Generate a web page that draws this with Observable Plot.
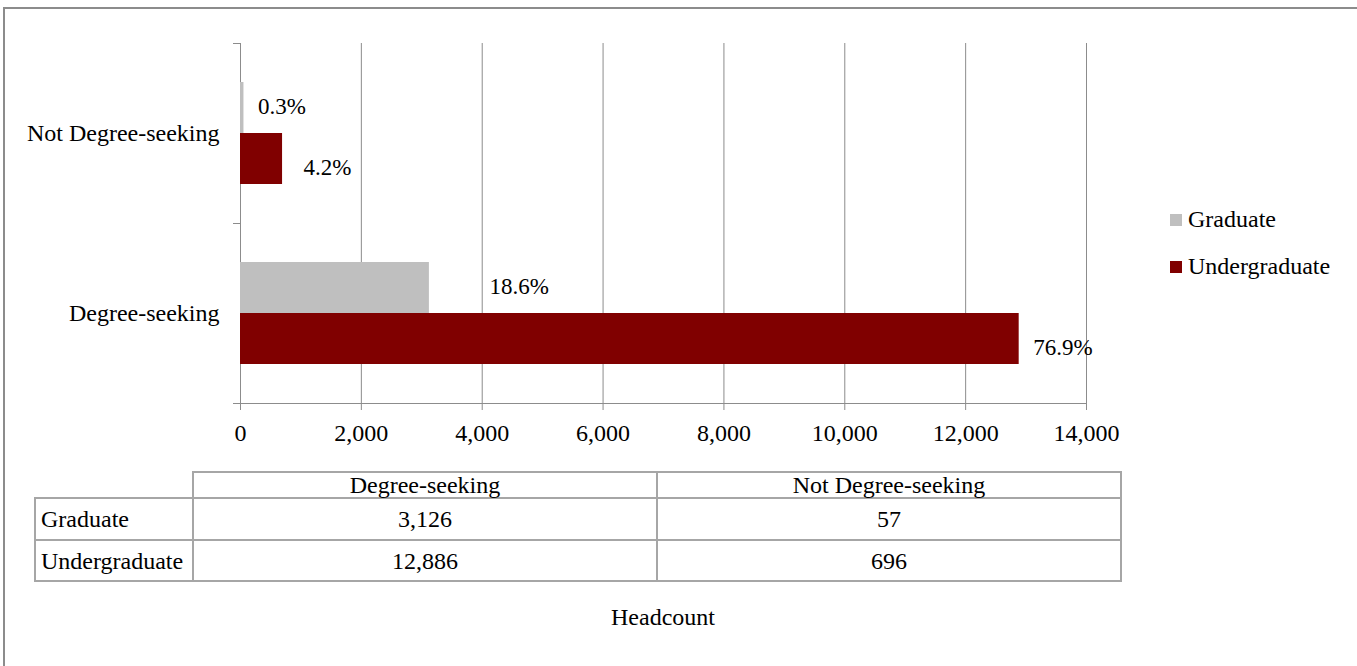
<!DOCTYPE html>
<html>
<head>
<meta charset="utf-8">
<script src="https://cdn.jsdelivr.net/npm/d3@7"></script>
<script src="https://cdn.jsdelivr.net/npm/@observablehq/plot@0.6"></script>
<style>
  html, body { margin: 0; padding: 0; background: #fff; }
  body { width: 1357px; height: 666px; overflow: hidden; position: relative; font-family: "Liberation Serif", "Times New Roman", serif; color: #000; }
  #frame { position: absolute; left: 3px; top: 7px; width: 1400px; height: 700px; border-top: 2px solid #8c8c8c; border-left: 2px solid #8c8c8c; }
  #chart { position: absolute; left: 0; top: 0; }
  #legend { position: absolute; left: 1170px; top: 196px; font-size: 24px; line-height: 47px; }
  #legend .item { display: flex; align-items: center; height: 47px; }
  #legend .sw { width: 12px; height: 12px; margin-right: 6px; }
  #table { position: absolute; left: 34px; top: 471px; border-collapse: collapse; font-size: 24px; table-layout: fixed; width: 1088px; }
  #table td { border: 2px solid #a6a6a6; padding: 0; text-align: center; line-height: 24px; }
  #table td.rowhead { text-align: left; padding-left: 5px; }
  #table td.blank { border: none; border-bottom: 2px solid #a6a6a6; border-right: 2px solid #a6a6a6; }
  #caption { position: absolute; left: 240px; width: 846px; top: 604px; text-align: center; font-size: 24px; }
</style>
</head>
<body>
<div id="frame"></div>
<div id="chart"></div>
<div id="legend"></div>
<table id="table"></table>
<div id="caption">Headcount</div>
<script>
// ---- data ----
const categories = ["Not Degree-seeking", "Degree-seeking"];
const series = ["Graduate", "Undergraduate"];
const graduate = [57, 3126];        // per category
const undergraduate = [696, 12886]; // per category
const xTicks = [0, 2000, 4000, 6000, 8000, 10000, 12000, 14000];
const tableColumns = ["Degree-seeking", "Not Degree-seeking"];
const colors = ["#bfbfbf", "#800000"];

// ---- label styling (offsets only) ----
const labelDx = {
  "Not Degree-seeking|Graduate": 14,
  "Not Degree-seeking|Undergraduate": 21,
  "Degree-seeking|Graduate": 60,
  "Degree-seeking|Undergraduate": 14
};
const labelDy = { "Graduate": -1, "Undergraduate": 9 };

const valuesBySeries = { Graduate: graduate, Undergraduate: undergraduate };
const rows = [];
series.forEach(s => categories.forEach((c, i) => rows.push({ category: c, series: s, value: valuesBySeries[s][i] })));
const total = d3.sum(rows, d => d.value);
const pct = d => (d.value / total * 100).toFixed(1) + "%";

const width = 1357, marginLeft = 240, marginRight = 271;
const plotW = width - marginLeft - marginRight;
const gridColor = "#8c8c8c";

const labelMarks = rows.map(r => Plot.text([r], {
  fy: "category", y: "series", x: "value", text: pct,
  textAnchor: "start", dx: labelDx[r.category + "|" + r.series], dy: labelDy[r.series],
  fontSize: 23, fill: "#000"
}));

const chart = Plot.plot({
  width, height: 460,
  marginLeft, marginRight, marginTop: 42, marginBottom: 57,
  style: { fontFamily: "Liberation Serif, Times New Roman, serif", fontSize: "24px", color: "#000", background: "transparent", overflow: "visible" },
  x: { domain: [0, 14000], axis: null },
  y: { domain: series, paddingInner: 0, paddingOuter: 0.75, axis: null },
  fy: { domain: categories, padding: 0, axis: null },
  color: { domain: series, range: colors },
  marks: [
    Plot.gridX(xTicks, { stroke: gridColor, strokeOpacity: 1 }),
    Plot.frame({ anchor: "top", stroke: gridColor, insetLeft: -7, insetRight: plotW }),
    Plot.frame({ anchor: "bottom", stroke: gridColor, insetLeft: -7, insetRight: plotW }),
    Plot.barX(rows, { fy: "category", y: "series", x: "value", fill: "series" }),
    Plot.axisX(xTicks, { anchor: "bottom", tickSize: 7, tickPadding: 13, stroke: gridColor, fill: "#000", tickFormat: d3.format(","), label: null, fontSize: 24 }),
    Plot.frame({ anchor: "bottom", stroke: gridColor, facetAnchor: "bottom" }),
    Plot.axisFy({ anchor: "left", tickSize: 0, tickPadding: 21, label: null, fontSize: 24, fill: "#000" }),
    ...labelMarks
  ]
});
document.getElementById("chart").appendChild(chart);

// ---- legend ----
const legend = d3.select("#legend");
series.forEach((s, i) => {
  const item = legend.append("div").attr("class", "item");
  item.append("div").attr("class", "sw").style("background", colors[i]);
  item.append("span").text(s);
});

// ---- data table ----
const fmt = d3.format(",");
const table = d3.select("#table");
const colgroup = table.append("colgroup");
[158, 464, 464].forEach(w => colgroup.append("col").style("width", w + "px"));
const head = table.append("tr").style("height", "26px");
head.append("td").attr("class", "blank");
tableColumns.forEach(c => head.append("td").text(c));
series.forEach((s, i) => {
  const tr = table.append("tr").style("height", i === 0 ? "42px" : "41px");
  tr.append("td").attr("class", "rowhead").text(s);
  tableColumns.forEach(c => {
    const ci = categories.indexOf(c);
    tr.append("td").text(fmt(valuesBySeries[s][ci]));
  });
});
</script>
</body>
</html>
